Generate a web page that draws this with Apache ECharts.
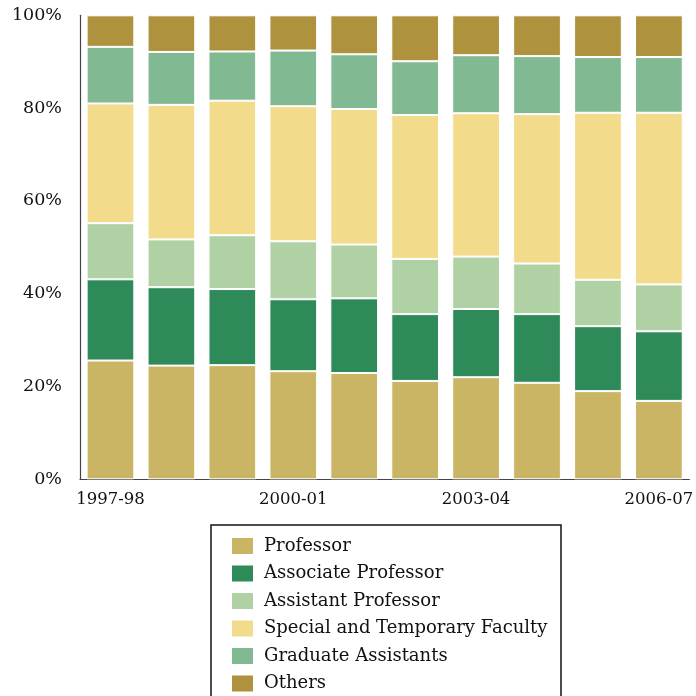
<!DOCTYPE html>
<html>
<head>
<meta charset="utf-8">
<script src="https://cdn.jsdelivr.net/npm/echarts@6/dist/echarts.min.js"></script>
<style>
html,body{margin:0;padding:0;background:#fff;}
#chart{width:696px;height:696px;}
</style>
</head>
<body>
<div id="chart"></div>
<script>
const years = ['1997-98','1998-99','1999-00','2000-01','2001-02','2002-03','2003-04','2004-05','2005-06','2006-07'];
const professor = [25.6, 24.5, 24.6, 23.3, 22.9, 21.2, 22.0, 20.8, 19.0, 16.9];
const associate = [17.5, 16.9, 16.4, 15.5, 16.1, 14.4, 14.7, 14.8, 14.0, 15.0];
const assistant = [12.1, 10.3, 11.6, 12.5, 11.6, 11.9, 11.3, 10.9, 10.0, 10.1];
const special   = [25.8, 29.0, 29.0, 29.1, 29.2, 31.0, 30.9, 32.2, 36.0, 37.0];
const graduate  = [12.2, 11.4, 10.6, 12.0, 11.8, 11.6, 12.5, 12.5, 12.0, 12.0];
const others    = [6.8, 7.9, 7.8, 7.6, 8.4, 9.9, 8.6, 8.8, 9.0, 9.0];
const yTicks = [0, 20, 40, 60, 80, 100];

const seriesNames = ['Professor','Associate Professor','Assistant Professor','Special and Temporary Faculty','Graduate Assistants','Others'];
const seriesData = [professor, associate, assistant, special, graduate, others];
const colors = ['#C9B563','#2E8A58','#B0D1A3','#F2DB8B','#80B992','#AE923E'];

const FONT = 'DejaVu Serif';
const chart = echarts.init(document.getElementById('chart'), null, {renderer:'canvas'});
chart.setOption({
  animation: false,
  backgroundColor: '#fff',
  color: colors,
  grid: {left: 80, right: 3, top: 15.3, bottom: 216.7, containLabel: false},
  xAxis: {
    type: 'category',
    data: years,
    axisLine: {lineStyle: {color: '#444', width: 1.2}},
    axisTick: {show: false},
    axisLabel: {interval: 2, color: '#111', fontFamily: FONT, fontSize: 16.5, margin: 12}
  },
  yAxis: {
    type: 'value',
    min: yTicks[0],
    max: yTicks[yTicks.length-1],
    interval: yTicks[1]-yTicks[0],
    axisLine: {show: true, lineStyle: {color: '#444', width: 1.2}},
    axisTick: {show: false},
    splitLine: {show: false},
    axisLabel: {formatter: '{value}%', color: '#111', fontFamily: FONT, fontSize: 17.5, margin: 18}
  },
  legend: {
    orient: 'vertical',
    left: 230,
    top: 536,
    height: 300,
    padding: 0,
    itemWidth: 23,
    itemHeight: 18,
    itemGap: 7.5,
    icon: 'rect',
    data: seriesNames,
    textStyle: {color: '#111', fontFamily: FONT, fontSize: 18, lineHeight: 18, padding: [0,0,0,5]}
  },
  graphic: [{
    type: 'rect',
    shape: {x: 211, y: 525, width: 350, height: 200},
    style: {fill: 'none', stroke: '#111', lineWidth: 1.5},
    silent: true
  }],
  series: seriesNames.map((name, i) => ({
    name: name,
    type: 'bar',
    stack: 'total',
    data: seriesData[i],
    barCategoryGap: '21.7%',
    itemStyle: {color: colors[i], borderColor: '#ffffff', borderWidth: 1}
  }))
});
</script>
</body>
</html>
